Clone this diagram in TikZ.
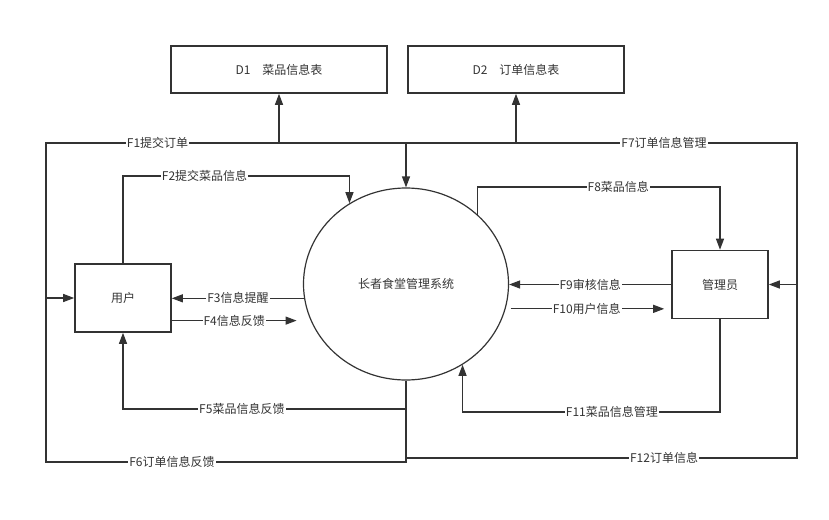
\documentclass[tikz,border=0pt]{standalone}
\usepackage{fontspec}
\setmainfont{Noto Sans CJK SC}
\usetikzlibrary{shapes.geometric,arrows.meta}
\definecolor{dfdgray}{RGB}{51,51,51}
\tikzset{
  ent/.style={rectangle, draw=dfdgray, line width=1.6pt, minimum width=96pt, minimum height=68pt,
    text=dfdgray, font=\fontsize{12}{14}\selectfont, inner sep=0pt},
  store/.style={ent, minimum width=216pt, minimum height=47pt},
  proc/.style={ellipse, draw=dfdgray, line width=1.2pt, minimum width=205pt, minimum height=192pt,
    inner sep=0pt, text=dfdgray, font=\fontsize{12}{14}\selectfont},
  flow/.style={draw=dfdgray, line width=1.2pt},
  farr/.style={flow, -{Triangle[length=11pt,width=8pt]}},
  lbl/.style={fill=white, inner sep=1pt, text=dfdgray, font=\fontsize{12}{14}\selectfont},
}

\begin{document}
\begin{tikzpicture}[x=1pt,y=-1pt]
    \useasboundingbox (0,0) rectangle (829,519);
    \node[store](d1) at (279,69.5){D1\quad 菜品信息表};
    \node[store](d2) at (516,69.5){D2\quad 订单信息表};
    \node[ent](user) at (123,298){用户};
    \node[ent](admin) at (720,284.5){管理员};
    \node[proc](sys) at (406,284){长者食堂管理系统};
    \coordinate (j1) at (406,143);
    \coordinate (tl) at (46,143);
    \coordinate (bl) at (46,462);
    \coordinate (tr) at (797,143);
    \coordinate (br) at (797,458);
    \coordinate (f2y) at (0,176);
    \coordinate (f8y) at (0,187);
    \coordinate (f5y) at (0,409);
    \coordinate (f11y) at (0,412);
    \draw[flow](sys.south)--(sys.south |- bl)--node[lbl,pos=0.65]{F6订单信息反馈}(bl)--(tl)--node[lbl,pos=0.31]{F1提交订单}(j1);
    \draw[farr](tl |- user.west)--(user.west);
    \draw[farr](d1.south |- j1)--(d1.south);
    \draw[farr](j1)--(sys.north);
    \draw[farr](j1)-|(d2.south);
    \draw[flow](j1)--node[lbl,pos=0.66]{F7订单信息管理}(tr)--(br)--node[lbl,pos=0.34]{F12订单信息}(sys.south |- br);
    \draw[farr](tr |- admin.east)--(admin.east);
    \draw[farr](sys.south |- f5y)-|node[lbl,pos=0.29]{F5菜品信息反馈}(user.south);
    \draw[farr](user.north)|-node[lbl,pos=0.68]{F2提交菜品信息}(sys.125 |- f2y)--(sys.125);
    \draw[farr](sys.188)--node[lbl]{F3信息提醒}(sys.188 -| user.east);
    \draw[farr,shorten >=14pt](user.east |- sys.201)--node[lbl,pos=0.45]{F4信息反馈}(sys.201);
    \draw[farr](admin.west)--node[lbl]{F9审核信息}(admin.west -| sys.east);
    \draw[farr,shorten <=5pt,shorten >=7pt](sys.-14)--node[lbl,pos=0.49]{F10用户信息}(sys.-14 -| admin.west);
    \draw[farr](sys.44)--(sys.44 |- f8y)-|node[lbl,pos=0.29]{F8菜品信息}(admin.north);
    \draw[farr](admin.south)|-node[lbl,pos=0.71]{F11菜品信息管理}(sys.-55 |- f11y)--(sys.-55);
  \end{tikzpicture}
\end{document}
